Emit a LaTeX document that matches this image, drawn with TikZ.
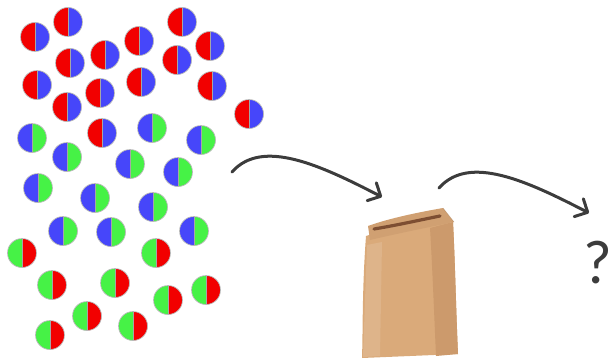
\documentclass[tikz,border=0pt]{standalone}
\usepackage{fontspec}
\setmainfont{Carlito}
\usetikzlibrary{arrows.meta}
\definecolor{rd}{RGB}{242,0,0}
\definecolor{bl}{RGB}{70,70,250}
\definecolor{gr}{RGB}{70,242,70}
\definecolor{arr}{RGB}{60,60,60}
\definecolor{bagbase}{RGB}{218,170,122}
\definecolor{bagdark}{RGB}{204,154,108}
\definecolor{bagflap}{RGB}{208,160,114}
\definecolor{bagfold}{RGB}{125,78,50}
\tikzset{
  ball/.style 2 args={circle, minimum size=29pt, inner sep=0pt, draw=gray!55, line width=0.7pt,
    path picture={
      \fill[#1] (path picture bounding box.south west) rectangle (path picture bounding box.north);
      \fill[#2] (path picture bounding box.south) rectangle (path picture bounding box.north east);
      \draw[gray!70, line width=0.4pt] (path picture bounding box.south) -- (path picture bounding box.north);
    }},
  arrowline/.style={draw=arr, line width=3pt, line cap=round, line join=round,
    -{Straight Barb[length=10pt,width=20pt,line cap=round,line join=round]}},
}
\begin{document}
\begin{tikzpicture}[x=1pt,y=-1pt]
\useasboundingbox (0,0) rectangle (612,361);
% red-blue balls
\foreach \x/\y [count=\i] in {35/37,68/22,105/55,139/41,182/22,210/46,177/60,70/63,37/85,100/93,141/82,212/86,67/107,102/133,249/114}
  \node[ball={rd}{bl}] (rb\i) at (\x,\y) {};
% blue-green balls
\foreach \x/\y [count=\i] in {32/138,67/157,152/128,201/140,130/164,178/172,38/188,95/198,153/207,63/231,111/232,194/231}
  \node[ball={bl}{gr}] (bg\i) at (\x,\y) {};
% green-red balls
\foreach \x/\y [count=\i] in {22/253,156/253,52/285,115/283,206/290,168/300,87/316,133/326,50/335}
  \node[ball={gr}{rd}] (gr\i) at (\x,\y) {};
% bag
\begin{scope}
  \fill[bagbase] (366,236) .. controls (362,290) and (363,330) .. (362,358)
     -- (458,354) .. controls (456,310) and (455,260) .. (453,222) -- (372,234) -- cycle;
  \fill[bagdark] (430,228) -- (453,222) .. controls (455,260) and (456,310) .. (458,354)
     -- (436,356) .. controls (434,310) and (432,260) .. (430,228) -- cycle;
  \fill[bagbase!75!white, opacity=0.5] (367,245) -- (382,242) -- (380,356) -- (363,357) -- cycle;
  \fill[bagflap] (368,226) .. controls (390,218) and (420,212) .. (443,208)
     -- (454,222) .. controls (425,228) and (395,234) .. (370,240) -- cycle;
  \draw[bagfold, line width=3.2pt, line cap=round] (374,229) .. controls (398,225) and (420,220) .. (440,216);
  \draw[bagdark!80!black, line width=0.6pt, opacity=0.4] (443,208) -- (454,222);
\end{scope}
\coordinate (bag) at (410,290);
% question mark
\node[font=\fontsize{62}{62}\selectfont, text=arr, inner sep=0pt] (q) at (598,263) {?};
% arrows
\coordinate (a1s) at (232,172);
\coordinate (a1e) at (382,197);
\coordinate (a2s) at (439,188);
\coordinate (a2e) at (589,213);
\draw[arrowline] (a1s) .. controls (262,138) and (320,165) .. (a1e);
\draw[arrowline] (a2s) .. controls (469,154) and (527,181) .. (a2e);
\end{tikzpicture}
\end{document}
